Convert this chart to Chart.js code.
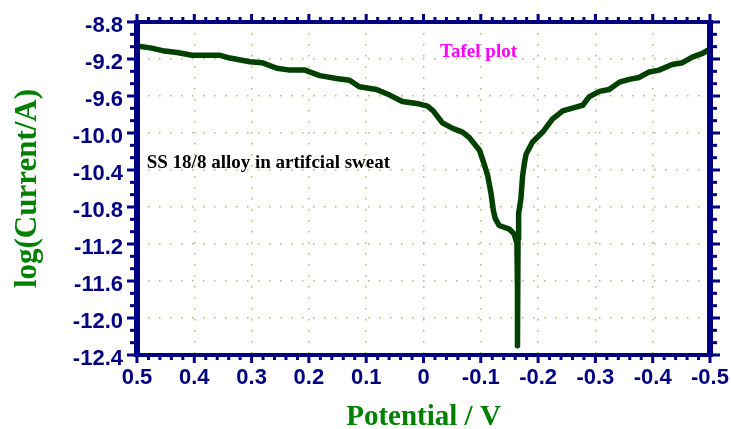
<!DOCTYPE html>
<html>
<head>
<meta charset="utf-8">
<script src="https://cdn.jsdelivr.net/npm/chart.js@4.4.1/dist/chart.umd.min.js"></script>
<style>
  html, body { margin: 0; padding: 0; background: #ffffff; }
  #wrap { width: 731px; height: 429px; }
</style>
</head>
<body>
<div id="wrap"><canvas id="c" width="731" height="429"></canvas></div>
<script>
// ---- data ----
const potential = [
  0.500, 0.477, 0.455, 0.430, 0.404, 0.355, 0.338, 0.303, 0.282, 0.256,
  0.233, 0.207, 0.181, 0.152, 0.129, 0.112, 0.082, 0.059, 0.037, 0.012,
  -0.007, -0.017, -0.033, -0.051, -0.068, -0.080, -0.098, -0.106, -0.112, -0.118,
  -0.122, -0.125, -0.132, -0.150, -0.158, -0.163, -0.164, -0.164, -0.165, -0.166,
  -0.170, -0.173, -0.176, -0.179, -0.190, -0.208, -0.225, -0.243, -0.266, -0.278,
  -0.289, -0.307, -0.324, -0.342, -0.359, -0.376, -0.394, -0.411, -0.434, -0.452,
  -0.469, -0.487, -0.500
];
const logCurrent = [
  -9.06, -9.08, -9.11, -9.13, -9.16, -9.16, -9.19, -9.23, -9.24, -9.30,
  -9.32, -9.32, -9.38, -9.41, -9.43, -9.50, -9.53, -9.59, -9.66, -9.68,
  -9.71, -9.76, -9.89, -9.95, -9.99, -10.05, -10.19, -10.34, -10.46, -10.66,
  -10.84, -10.92, -11.00, -11.04, -11.09, -11.19, -11.68, -12.30, -11.14, -10.87,
  -10.71, -10.46, -10.33, -10.23, -10.10, -9.99, -9.85, -9.76, -9.72, -9.70,
  -9.61, -9.55, -9.53, -9.45, -9.42, -9.40, -9.34, -9.32, -9.26, -9.24,
  -9.18, -9.14, -9.09
];
const xTickValues = [0.5, 0.4, 0.3, 0.2, 0.1, 0, -0.1, -0.2, -0.3, -0.4, -0.5];
const xTickLabels = ['0.5', '0.4', '0.3', '0.2', '0.1', '0', '-0.1', '-0.2', '-0.3', '-0.4', '-0.5'];
const yTickValues = [-8.8, -9.2, -9.6, -10.0, -10.4, -10.8, -11.2, -11.6, -12.0, -12.4];
const yTickLabels = ['-8.8', '-9.2', '-9.6', '-10.0', '-10.4', '-10.8', '-11.2', '-11.6', '-12.0', '-12.4'];
const xTitle = 'Potential / V';
const yTitle = 'log(Current/A)';
const noteTafel = { text: 'Tafel plot', x: -0.029, y: -9.13 };
const noteSample = { text: 'SS 18/8 alloy in artifcial sweat', x: 0.483, y: -10.32 };

// ---- styling ----
const NAVY = '#000080';
const GREEN_TITLE = '#008000';
const CURVE = '#004000';
const GRID = 'rgba(150,180,90,0.85)';

function labelFor(values, labels, v) {
  const i = values.findIndex(t => Math.abs(t - v) < 1e-6);
  return i >= 0 ? labels[i] : '';
}

const frameTicks = {
  id: 'frameTicks',
  afterDatasetsDraw(chart) {
    const { ctx, chartArea: a, scales: { x, y } } = chart;
    ctx.save();
    ctx.fillStyle = NAVY;
    const vw = 6, hw = 4;
    // frame
    ctx.fillRect(a.left - vw / 2, a.top - hw / 2, vw, a.bottom - a.top + hw);
    ctx.fillRect(a.right - vw / 2, a.top - hw / 2, vw, a.bottom - a.top + hw);
    ctx.fillRect(a.left - vw / 2, a.top - hw / 2, a.right - a.left + vw, hw);
    ctx.fillRect(a.left - vw / 2, a.bottom - hw / 2, a.right - a.left + vw, hw);
    // x ticks (major 0.1, minor 0.02)
    for (let k = -25; k <= 25; k++) {
      const v = k / 50;
      const major = k % 5 === 0;
      const len = major ? 6 : 3;
      const px = x.getPixelForValue(v);
      ctx.fillRect(px - 1.5, a.bottom + hw / 2, 3, len);
      ctx.fillRect(px - 1.5, a.top - hw / 2 - len, 3, len);
    }
    // y ticks (major 0.4, minor every 0.4/3)
    for (let k = 0; k <= 27; k++) {
      const v = -8.8 - k * 0.4 / 3;
      const major = k % 3 === 0;
      const len = major ? 7 : 4;
      const py = y.getPixelForValue(v);
      ctx.fillRect(a.left - vw / 2 - len, py - 1.5, len, 3);
      ctx.fillRect(a.right + vw / 2, py - 1.5, len, 3);
    }
    // annotations
    ctx.textBaseline = 'middle';
    ctx.textAlign = 'left';
    ctx.font = 'bold 19px "Liberation Serif", "Times New Roman", serif';
    ctx.fillStyle = '#ff00ff';
    ctx.fillText(noteTafel.text, x.getPixelForValue(noteTafel.x), y.getPixelForValue(noteTafel.y));
    ctx.fillStyle = '#000000';
    ctx.fillText(noteSample.text, x.getPixelForValue(noteSample.x), y.getPixelForValue(noteSample.y));
    ctx.restore();
  }
};

const points = potential.map((v, i) => ({ x: v, y: logCurrent[i] }));

new Chart(document.getElementById('c'), {
  type: 'scatter',
  data: {
    datasets: [{
      data: points,
      showLine: true,
      borderColor: CURVE,
      backgroundColor: CURVE,
      borderWidth: 5.5,
      borderCapStyle: 'round',
      borderJoinStyle: 'round',
      pointRadius: 0,
      tension: 0,
      clip: 4
    }]
  },
  options: {
    responsive: false,
    animation: false,
    devicePixelRatio: 1,
    layout: { padding: { top: 22, right: 21, left: 0, bottom: 0 } },
    plugins: { legend: { display: false }, tooltip: { enabled: false } },
    scales: {
      x: {
        type: 'linear',
        reverse: true,
        min: -0.5,
        max: 0.5,
        afterFit: s => { s.height = 74; s.paddingLeft = 0; s.paddingRight = 0; },
        afterBuildTicks: s => { s.ticks = xTickValues.map(v => ({ value: v })); },
        border: { display: false, dash: [1.5, 9.5] },
        grid: {
          color: GRID, lineWidth: 1.5,
          drawTicks: false
        },
        ticks: {
          color: NAVY,
          font: { family: '"Liberation Sans", Arial, sans-serif', size: 22, weight: 'bold' },
          padding: 10,
          maxRotation: 0,
          autoSkip: false,
          callback: v => labelFor(xTickValues, xTickLabels, v)
        },
        title: {
          display: true,
          text: xTitle,
          color: GREEN_TITLE,
          font: { family: '"Liberation Serif", "Times New Roman", serif', size: 29, weight: 'bold', lineHeight: 0.76 },
          padding: { top: 0, bottom: 0 }
        }
      },
      y: {
        type: 'linear',
        min: -12.4,
        max: -8.8,
        afterFit: s => { s.width = 137; s.paddingTop = 0; s.paddingBottom = 0; },
        afterBuildTicks: s => { s.ticks = yTickValues.map(v => ({ value: v })); },
        border: { display: false, dash: [1.5, 9.5] },
        grid: {
          color: GRID, lineWidth: 1.5,
          drawTicks: false
        },
        ticks: {
          color: NAVY,
          font: { family: '"Liberation Sans", Arial, sans-serif', size: 22, weight: 'bold', lineHeight: '7px' },
          padding: 14,
          autoSkip: false,
          callback: v => ['', labelFor(yTickValues, yTickLabels, v)]
        },
        title: {
          display: true,
          text: yTitle,
          color: GREEN_TITLE,
          font: { family: '"Liberation Serif", "Times New Roman", serif', size: 31, weight: 'bold', lineHeight: 1.2 },
          padding: { top: 9, bottom: 0 }
        }
      }
    }
  },
  plugins: [frameTicks]
});
</script>
</body>
</html>
